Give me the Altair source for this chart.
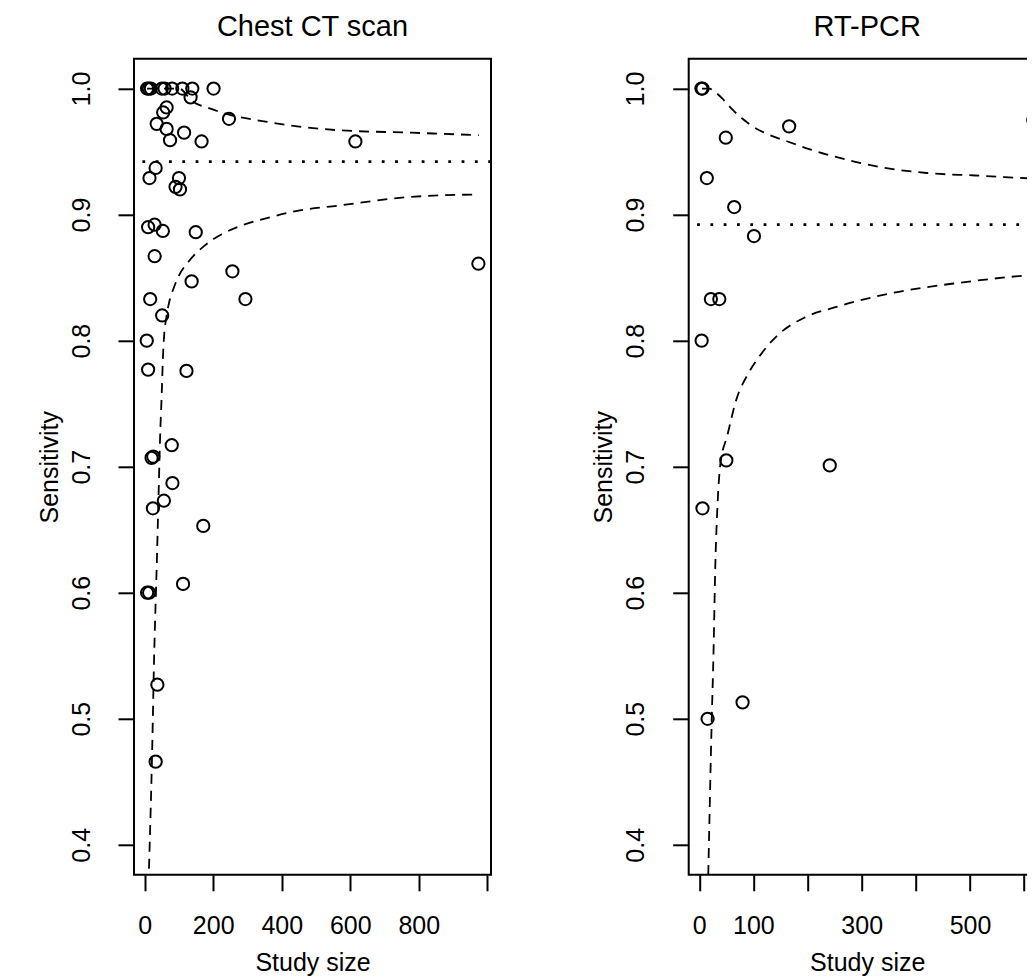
import altair as alt
import pandas as pd

FONT = "Liberation Sans"

# ---------------- Chest CT scan ----------------
ct_size = [7, 12, 18, 50, 58, 80, 110, 139, 201,
           134, 64, 54, 246, 35, 64, 74, 115, 166, 615,
           32, 14, 100, 90, 103,
           10, 29, 53, 149,
           29, 256, 137,
           16, 294, 51,
           6, 10, 122,
           79, 20, 25, 81, 56, 24, 171,
           112, 7, 13,
           37, 32, 974]
ct_sens = [1.0, 1.0, 1.0, 1.0, 1.0, 1.0, 1.0, 1.0, 1.0,
           0.993, 0.985, 0.981, 0.976, 0.972, 0.968, 0.959, 0.965, 0.958, 0.958,
           0.937, 0.929, 0.929, 0.922, 0.920,
           0.890, 0.892, 0.887, 0.886,
           0.867, 0.855, 0.847,
           0.833, 0.833, 0.820,
           0.800, 0.777, 0.776,
           0.717, 0.707, 0.708, 0.687, 0.673, 0.667, 0.653,
           0.607, 0.600, 0.600,
           0.527, 0.466, 0.861]
ct_pooled = 0.942
ct_upper_n = [7, 100, 139, 192, 251, 348, 445, 562, 776, 975]
ct_upper_v = [1.0, 1.0, 0.990, 0.984, 0.979, 0.974, 0.970, 0.967, 0.965, 0.963]
ct_lower_n = [12.5, 22.4, 27, 32, 35, 40, 44.6, 50, 53, 57, 63, 71, 85, 97,
              129, 173, 222, 290, 367, 445, 562, 776, 975]
ct_lower_v = [0.381, 0.482, 0.543, 0.593, 0.620, 0.672, 0.720, 0.760, 0.785,
              0.805, 0.818, 0.830, 0.842, 0.850, 0.863, 0.875, 0.884, 0.892,
              0.898, 0.903, 0.907, 0.914, 0.916]

# ---------------- RT-PCR ----------------
pcr_size = [4, 6, 166, 49, 617, 14, 64.5, 101, 21.5, 37, 4.4, 50, 241, 6, 15.4, 80]
pcr_sens = [1.0, 1.0, 0.970, 0.961, 0.975, 0.929, 0.906, 0.883, 0.833, 0.833,
            0.800, 0.705, 0.701, 0.667, 0.500, 0.513]
pcr_pooled = 0.892
pcr_upper_n = [5, 18, 30, 45, 62, 80, 95, 120, 163, 210, 250, 330, 420, 510, 640]
pcr_upper_v = [1.0, 1.0, 0.997, 0.991, 0.983, 0.976, 0.971, 0.965, 0.958,
               0.951, 0.946, 0.938, 0.933, 0.931, 0.928]
pcr_lower_n = [16.6, 22.8, 26.5, 29.5, 34, 38.7, 52, 67.6, 92, 113.6, 144,
               193, 255, 359, 482, 611, 640]
pcr_lower_v = [0.376, 0.495, 0.556, 0.619, 0.672, 0.701, 0.725, 0.752, 0.775,
               0.789, 0.804, 0.818, 0.827, 0.838, 0.846, 0.852, 0.853]

W, H = 357, 816
YDOM = [0.3762, 1.0236]
YTICKS = [0.4, 0.5, 0.6, 0.7, 0.8, 0.9, 1.0]


def panel(title, size, sens, pooled, un, uv, ln, lv, xdom, xticks, hidden):
    pts = pd.DataFrame({"n": size, "s": sens})
    up = pd.DataFrame({"n": un, "s": uv})
    lo = pd.DataFrame({"n": ln, "s": lv})
    rl = pd.DataFrame({"s": [pooled]})
    tt = pd.DataFrame({"t": [title]})
    xs = alt.Scale(domain=xdom, nice=False, zero=False)
    ys = alt.Scale(domain=YDOM, nice=False, zero=False)
    hid = " || ".join(f"datum.value == {h}" for h in hidden) if hidden else "false"
    xaxis = alt.Axis(values=xticks, title="Study size", labelExpr=f"({hid}) ? '' : datum.label",
                     format="d", labelAngle=0, labelBaseline="alphabetic", labelPadding=43,
                     titleBaseline="alphabetic", titleX=W / 2, titleY=96, titleAlign="center")
    yaxis = alt.Axis(values=YTICKS, format=".1f", title="Sensitivity", labelAngle=270,
                     labelAlign="center", labelBaseline="alphabetic", labelPadding=29,
                     titleAngle=270, titleAlign="center", titleBaseline="alphabetic",
                     titleX=-77, titleY=H / 2)
    X = alt.X("n:Q", scale=xs, axis=xaxis)
    Y = alt.Y("s:Q", scale=ys, axis=yaxis)
    points = alt.Chart(pts).mark_point(shape="circle", filled=False, color="black",
                                       strokeWidth=2, size=150, opacity=1).encode(x=X, y=Y)
    upper = alt.Chart(up).mark_line(color="black", strokeWidth=1.8, strokeDash=[10, 7],
                                    clip=True, interpolate="monotone").encode(x=X, y=Y)
    lower = alt.Chart(lo).mark_line(color="black", strokeWidth=1.8, strokeDash=[10, 7],
                                    clip=True, interpolate="monotone").encode(x=X, y=Y)
    rule = alt.Chart(rl).mark_rule(
        color="black", strokeWidth=2.8, strokeDash=[2.8, 10.5]).encode(y=Y)
    head = alt.Chart(tt).mark_text(font=FONT, fontSize=29, color="black", align="center",
                                   baseline="alphabetic").encode(
        x=alt.value(W / 2), y=alt.value(-22.3), text="t:N")
    return alt.layer(points, rule, upper, lower, head).properties(width=W, height=H)


left = panel("Chest CT scan", ct_size, ct_sens, ct_pooled, ct_upper_n, ct_upper_v,
             ct_lower_n, ct_lower_v, [-31.2, 1010.8], [0, 200, 400, 600, 800, 1000], [1000])
right = panel("RT-PCR", pcr_size, pcr_sens, pcr_pooled, pcr_upper_n, pcr_upper_v,
              pcr_lower_n, pcr_lower_v, [-19.5, 639.8], [0, 100, 200, 300, 400, 500, 600],
              [200, 400, 600])

chart = alt.hconcat(left, right, spacing=96.7).properties(
    padding={"left": 28, "top": 3.8, "right": -22, "bottom": 5}
).configure_view(stroke="black", strokeWidth=2).configure_axis(
    domain=False, grid=False, ticks=True, tickColor="black", tickWidth=2, tickSize=16,
    labelFont=FONT, labelFontSize=25, labelColor="black",
    titleFont=FONT, titleFontSize=25, titleFontWeight="normal", titleColor="black",
)

chart.save("out.html", embed_options={"renderer": "svg", "actions": False})
